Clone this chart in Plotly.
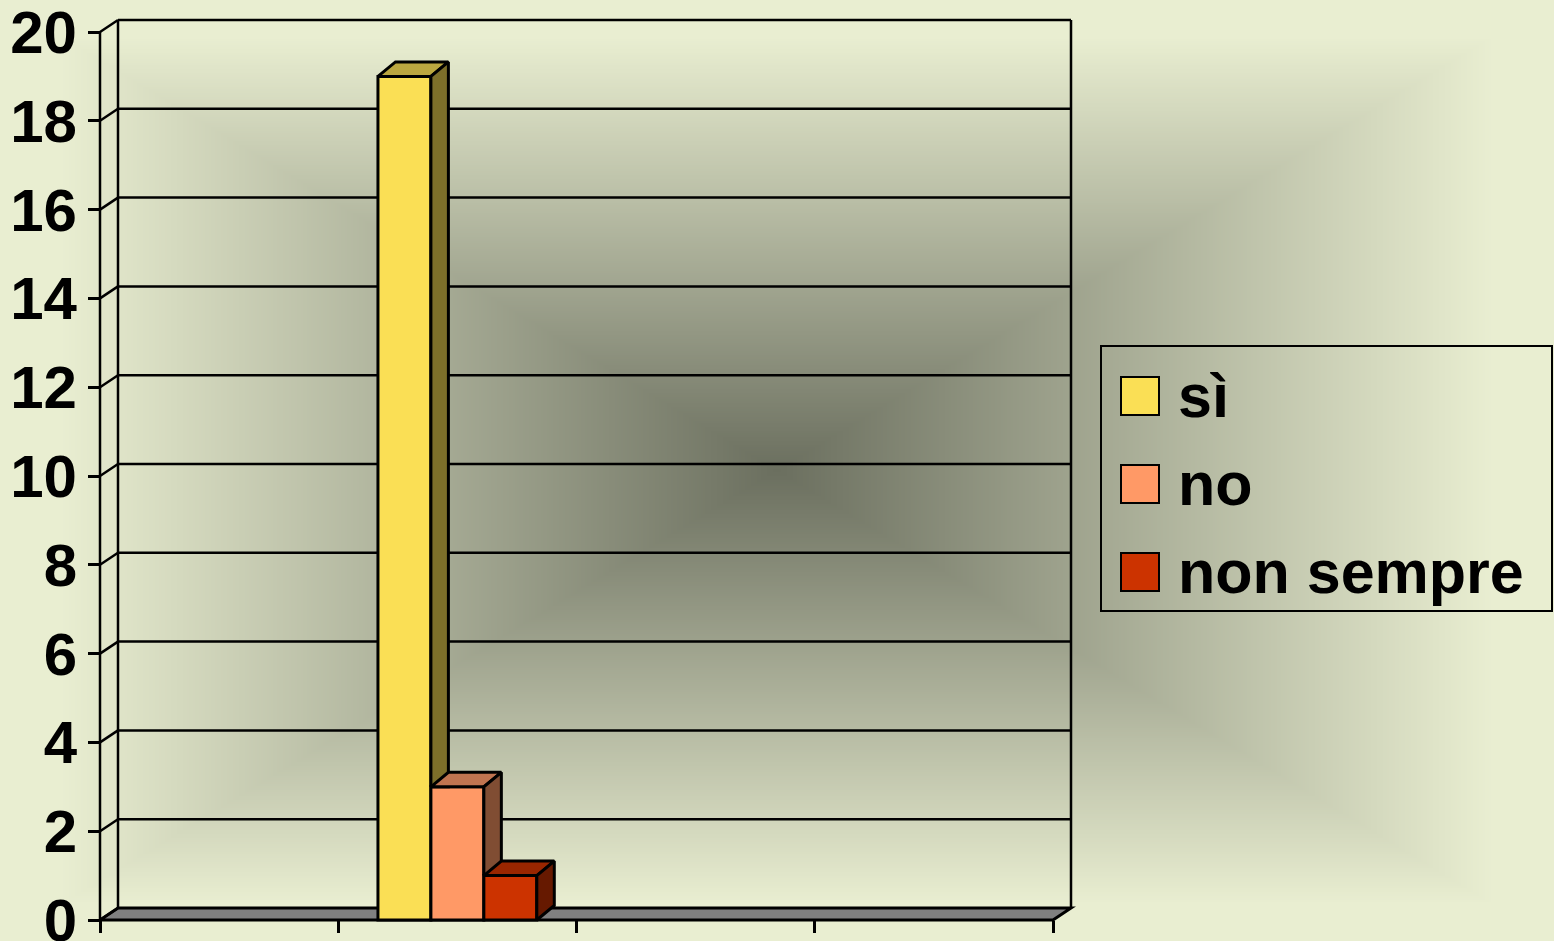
import base64
import struct
import zlib

import numpy as np
import plotly.graph_objects as go

# ---------------- data ----------------
categories = [1, 2, 3, 4]                      # four unlabeled categories
series_names = ["sì", "no", "non sempre"]
si_values = [None, 19, None, None]
no_values = [None, 3, None, None]
non_sempre_values = [None, 1, None, None]
y_ticks = [0, 2, 4, 6, 8, 10, 12, 14, 16, 18, 20]

# ---------------- style ----------------
W, H = 1554, 941
FONT = "Arial, Liberation Sans, sans-serif"
front_colors = ["#FADF55", "#FF9966", "#CC3300"]
top_colors = ["#BBA740", "#C07450", "#992600"]
side_colors = ["#7D6F2A", "#804D33", "#661900"]
BG_EDGE = np.array([0xE9, 0xEE, 0xD1], dtype=float)
BG_CENTER = np.array([0x6B, 0x6F, 0x5F], dtype=float)

# pixel geometry of the plotting frame
PLOT_L, PLOT_R, PLOT_T, PLOT_B = 80, 1090, 5, 935
FRONT_X0_PX, FRONT_X1_PX = 100, 1053
FRONT_Y0_PX, FRONT_YMAX_PX = 920, 32
Y_MAX = 20
ppx = (FRONT_X1_PX - FRONT_X0_PX) / len(categories)
ppy = (FRONT_Y0_PX - FRONT_YMAX_PX) / Y_MAX
x_lo = categories[0] - 0.5 - (FRONT_X0_PX - PLOT_L) / ppx
x_hi = categories[-1] + 0.5 + (PLOT_R - FRONT_X1_PX) / ppx
y_lo = -(PLOT_B - FRONT_Y0_PX) / ppy
y_hi = Y_MAX + (FRONT_YMAX_PX - PLOT_T) / ppy
WALL_DX, WALL_DY = 18 / ppx, 12 / ppy
BAR_DX, BAR_DY = 17.5 / ppx, 14.5 / ppy
BARGAP = 1 / 3
LW = 3
GW = 2.5


def px2paper_x(px):
    return (px - PLOT_L) / (PLOT_R - PLOT_L)


def px2paper_y(py):
    return (PLOT_B - py) / (PLOT_B - PLOT_T)


# ---------------- background gradient image ----------------
def png_data_uri(rgb):
    h, w, _ = rgb.shape
    raw = b"".join(b"\x00" + rgb[i].tobytes() for i in range(h))

    def chunk(tag, data):
        c = struct.pack(">I", len(data)) + tag + data
        return c + struct.pack(">I", zlib.crc32(tag + data) & 0xFFFFFFFF)

    png = (b"\x89PNG\r\n\x1a\n"
           + chunk(b"IHDR", struct.pack(">IIBBBBB", w, h, 8, 2, 0, 0, 0))
           + chunk(b"IDAT", zlib.compress(raw, 9))
           + chunk(b"IEND", b""))
    return "data:image/png;base64," + base64.b64encode(png).decode()


gw, gh = W // 2, (H + 1) // 2
xs = (np.arange(gw) + 0.5) / gw * W
ys = (np.arange(gh) + 0.5) / gh * H
cx, cy = W / 2, H / 2
t = np.maximum(np.abs(xs - cx)[None, :] / cx, np.abs(ys - cy)[:, None] / cy)
t = np.clip(t / 0.92, 0, 1)
img = BG_CENTER + (BG_EDGE - BG_CENTER) * t[..., None]
img = np.clip(np.round(img), 0, 255).astype(np.uint8)
bg_uri = png_data_uri(img)

# ---------------- figure ----------------
fig = go.Figure()
all_series = [si_values, no_values, non_sempre_values]
n_series = len(all_series)
bar_w = (1 - BARGAP) / n_series

# front faces
for k, (name, vals) in enumerate(zip(series_names, all_series)):
    fig.add_trace(go.Bar(
        x=categories, y=vals, name=name, showlegend=False,
        marker=dict(color=front_colors[k], line=dict(color="black", width=LW)),
        hoverinfo="skip",
    ))

# top and side faces (pseudo 3-D)
for j, cat in enumerate(categories):
    for k, vals in enumerate(all_series):
        v = vals[j]
        if v is None:
            continue
        xc = cat + (k - (n_series - 1) / 2) * bar_w
        x0, x1 = xc - bar_w / 2, xc + bar_w / 2
        fig.add_trace(go.Scatter(
            x=[x0, x1, x1 + BAR_DX, x0 + BAR_DX, x0],
            y=[v, v, v + BAR_DY, v + BAR_DY, v],
            mode="lines", fill="toself", fillcolor=top_colors[k],
            line=dict(color="black", width=LW), hoverinfo="skip", showlegend=False,
        ))
        nxt = all_series[k + 1][j] if k + 1 < n_series else None
        if nxt is not None:
            lo = min(v, nxt)
            sx = [x1, x1, x1 + BAR_DX, x1 + BAR_DX, x1]
            sy = [lo, v, v + BAR_DY, lo, lo]
        else:
            sx = [x1, x1, x1 + BAR_DX, x1 + BAR_DX, x1]
            sy = [0, v, v + BAR_DY, BAR_DY, 0]
        fig.add_trace(go.Scatter(
            x=sx, y=sy, mode="lines", fill="toself", fillcolor=side_colors[k],
            line=dict(color="black", width=LW), hoverinfo="skip", showlegend=False,
        ))

shapes = []
xf0, xf1 = categories[0] - 0.5, categories[-1] + 0.5
# floor
shapes.append(dict(
    type="path", xref="x", yref="y", layer="below",
    path=f"M{xf0},0 L{xf1},0 L{xf1 + WALL_DX},{WALL_DY} L{xf0 + WALL_DX},{WALL_DY} Z",
    fillcolor="#808080", line=dict(color="black", width=LW),
))
# back-wall gridlines with side-wall connectors
for v in y_ticks:
    shapes.append(dict(type="line", xref="x", yref="y", layer="below",
                       x0=xf0, y0=v, x1=xf0 + WALL_DX, y1=v + WALL_DY,
                       line=dict(color="black", width=GW)))
    if v > 0:
        shapes.append(dict(type="line", xref="x", yref="y", layer="below",
                           x0=xf0 + WALL_DX, y0=v + WALL_DY, x1=xf1 + WALL_DX, y1=v + WALL_DY,
                           line=dict(color="black", width=GW)))
# wall verticals and front axis line
for xv, ya, yb in [(xf0 + WALL_DX, WALL_DY, Y_MAX + WALL_DY),
                   (xf1 + WALL_DX, WALL_DY, Y_MAX + WALL_DY),
                   (xf0, 0, Y_MAX)]:
    shapes.append(dict(type="line", xref="x", yref="y", layer="below",
                       x0=xv, y0=ya, x1=xv, y1=yb, line=dict(color="black", width=GW)))

# custom legend
LEG_BOX = (1101, 346, 1552, 611)
shapes.append(dict(type="rect", xref="paper", yref="paper",
                   x0=px2paper_x(LEG_BOX[0]), x1=px2paper_x(LEG_BOX[2]),
                   y0=px2paper_y(LEG_BOX[3]), y1=px2paper_y(LEG_BOX[1]),
                   line=dict(color="black", width=2), fillcolor="rgba(0,0,0,0)"))
annotations = []
SW_X0, SW_SIZE, ITEM_Y0, ITEM_STEP, TEXT_X = 1121, 38, 396, 88, 1176
for k, name in enumerate(series_names):
    yc = ITEM_Y0 + k * ITEM_STEP
    shapes.append(dict(type="rect", xref="paper", yref="paper",
                       x0=px2paper_x(SW_X0), x1=px2paper_x(SW_X0 + SW_SIZE),
                       y0=px2paper_y(yc + SW_SIZE / 2), y1=px2paper_y(yc - SW_SIZE / 2),
                       fillcolor=front_colors[k], line=dict(color="black", width=2)))
    annotations.append(dict(x=px2paper_x(TEXT_X), y=px2paper_y(yc), xref="paper", yref="paper",
                            text=name, showarrow=False, xanchor="left", yanchor="middle",
                            font=dict(family=FONT, size=61, color="black", weight=700)))

x_tickvals = [c - 0.5 for c in categories] + [categories[-1] + 0.5]

fig.update_layout(
    template="none",
    width=W, height=H,
    margin=dict(l=PLOT_L, r=W - PLOT_R, t=PLOT_T, b=H - PLOT_B, pad=0),
    paper_bgcolor="#E9EED1",
    plot_bgcolor="rgba(0,0,0,0)",
    barmode="group", bargap=BARGAP, bargroupgap=0,
    showlegend=False,
    xaxis=dict(range=[x_lo, x_hi], tickvals=x_tickvals, showticklabels=False,
               ticks="outside", ticklen=12, tickwidth=2.5, tickcolor="black",
               showgrid=False, zeroline=False, showline=False,
               anchor="free", position=px2paper_y(FRONT_Y0_PX), fixedrange=True),
    yaxis=dict(range=[y_lo, y_hi], tickvals=y_ticks,
               ticks="outside", ticklen=12, tickwidth=2.5, tickcolor="black",
               showgrid=False, zeroline=False, showline=False,
               anchor="free", position=px2paper_x(FRONT_X0_PX), fixedrange=True,
               ticklabelstandoff=-1, ticklabeloverflow="allow",
               tickfont=dict(family=FONT, size=60, color="black", weight=700)),
    shapes=shapes,
    annotations=annotations,
    images=[dict(source=bg_uri, xref="paper", yref="paper",
                 x=px2paper_x(0), y=px2paper_y(0),
                 sizex=W / (PLOT_R - PLOT_L), sizey=H / (PLOT_B - PLOT_T),
                 xanchor="left", yanchor="top", sizing="stretch", layer="below")],
)

fig.write_html(
    "out.html",
    config={"displayModeBar": False},
    post_script="document.body.style.margin='0';document.body.style.overflow='hidden';",
)
